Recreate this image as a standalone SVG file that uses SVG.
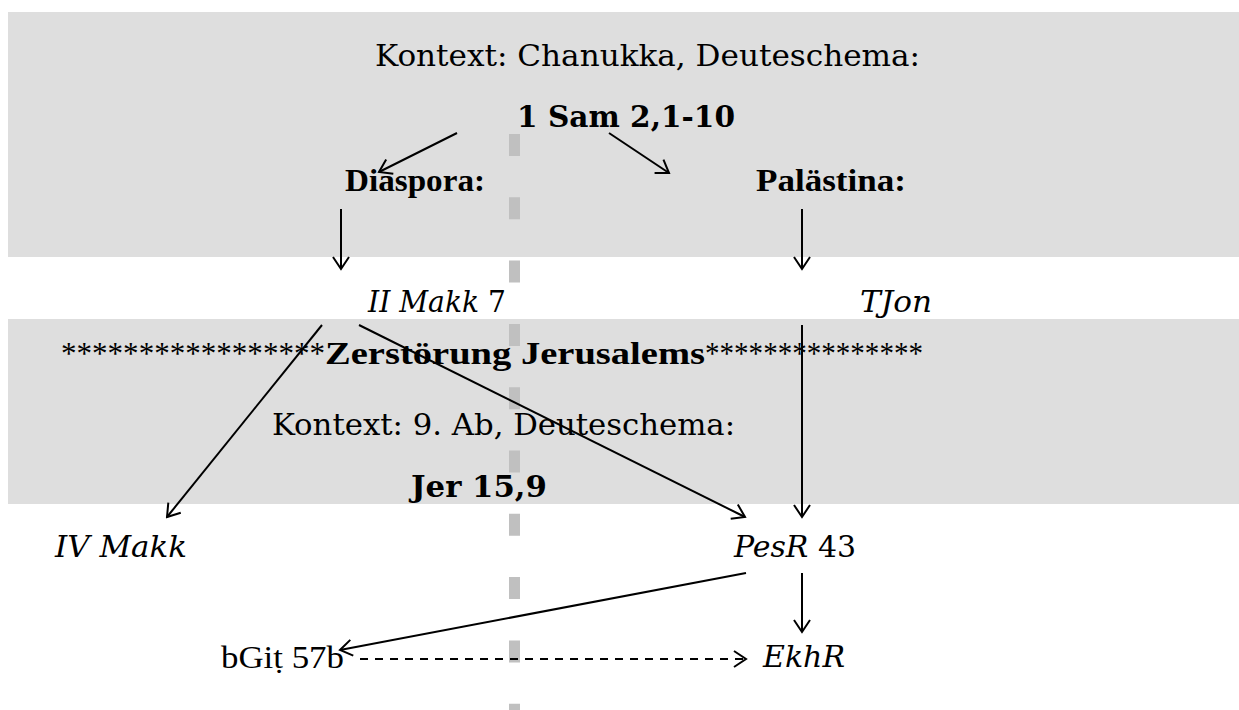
<svg xmlns="http://www.w3.org/2000/svg" width="1239" height="710" viewBox="0 0 1239 710">
<defs>
<style>
.band{fill:#dedede}
.sep{stroke:#c0c0c0;stroke-width:11;stroke-dasharray:22 41.3;fill:none}
.bk{font-family:"DejaVu Serif","Liberation Serif",serif;font-size:30px;fill:#000}
.tm{font-family:"Liberation Serif","Times New Roman",serif;font-size:31px;fill:#000}
.b{font-weight:bold}
.i{font-style:italic}
.con line{stroke:#000;stroke-width:2;fill:none}
.dot{stroke-dasharray:8 7}
</style>
<marker id="ah" viewBox="-14 -10 16 20" refX="0" refY="0" markerWidth="16" markerHeight="20" markerUnits="userSpaceOnUse" orient="auto">
<path d="M-12,-8 L0,0 L-12,8" fill="none" stroke="#000" stroke-width="2" stroke-dasharray="none"/>
</marker>
</defs>
<rect class="band" x="8" y="12" width="1231" height="245"/>
<rect class="band" x="8" y="319" width="1231" height="185"/>
<line class="sep" x1="514.5" y1="134" x2="514.5" y2="710"/>

<g id="kontext1"><text class="bk" x="375" y="66" textLength="545" lengthAdjust="spacingAndGlyphs">Kontext: Chanukka, Deuteschema:</text></g>
<g id="sam"><text class="bk b" x="517" y="127" textLength="218" lengthAdjust="spacingAndGlyphs">1 Sam 2,1-10</text></g>
<g id="diaspora"><text class="tm b" x="345" y="191" textLength="140" lengthAdjust="spacingAndGlyphs">Diaspora:</text></g>
<g id="palaestina"><text class="tm b" x="756" y="191" textLength="150" lengthAdjust="spacingAndGlyphs">Palästina:</text></g>
<g id="iimakk"><text class="bk" x="368" y="312" textLength="138" lengthAdjust="spacingAndGlyphs"><tspan class="i">II Makk</tspan> 7</text></g>
<g id="tjon"><text class="bk i" x="860" y="312" textLength="72" lengthAdjust="spacingAndGlyphs">TJon</text></g>
<g id="zerstoerung">
<text class="tm" x="61" y="364" textLength="264" lengthAdjust="spacingAndGlyphs">*****************</text>
<text class="tm b" x="325" y="364" textLength="380" lengthAdjust="spacingAndGlyphs">Zerstörung Jerusalems</text>
<text class="tm" x="705" y="364" textLength="218" lengthAdjust="spacingAndGlyphs">***************</text>
</g>
<g id="kontext2"><text class="bk" x="272" y="435" textLength="463" lengthAdjust="spacingAndGlyphs">Kontext: 9. Ab, Deuteschema:</text></g>
<g id="jer"><text class="bk b" x="411" y="497" textLength="136" lengthAdjust="spacingAndGlyphs">Jer 15,9</text></g>
<g id="ivmakk"><text class="bk i" x="55" y="557" textLength="132" lengthAdjust="spacingAndGlyphs">IV Makk</text></g>
<g id="pesr"><text class="bk" x="734" y="557" textLength="122" lengthAdjust="spacingAndGlyphs"><tspan class="i">PesR</tspan> 43</text></g>
<g id="bgit"><text class="tm" x="221" y="668" textLength="123" lengthAdjust="spacingAndGlyphs">bGiṭ 57b</text></g>
<g id="ekhr"><text class="bk i" x="763" y="667" textLength="82" lengthAdjust="spacingAndGlyphs">EkhR</text></g>

<g id="connectors" class="con">
<line x1="457" y1="133" x2="379" y2="172" marker-end="url(#ah)"/>
<line x1="609" y1="133" x2="669" y2="173" marker-end="url(#ah)"/>
<line x1="341" y1="209" x2="341" y2="269" marker-end="url(#ah)"/>
<line x1="802" y1="209" x2="802" y2="269" marker-end="url(#ah)"/>
<line x1="322" y1="325" x2="167" y2="517" marker-end="url(#ah)"/>
<line x1="359" y1="325" x2="745" y2="517" marker-end="url(#ah)"/>
<line x1="802" y1="325" x2="802" y2="517" marker-end="url(#ah)"/>
<line x1="746" y1="573" x2="340" y2="650" marker-end="url(#ah)"/>
<line x1="802" y1="573" x2="802" y2="632" marker-end="url(#ah)"/>
<line class="dot" x1="360" y1="659" x2="746" y2="659" marker-end="url(#ah)"/>
</g>
</svg>
